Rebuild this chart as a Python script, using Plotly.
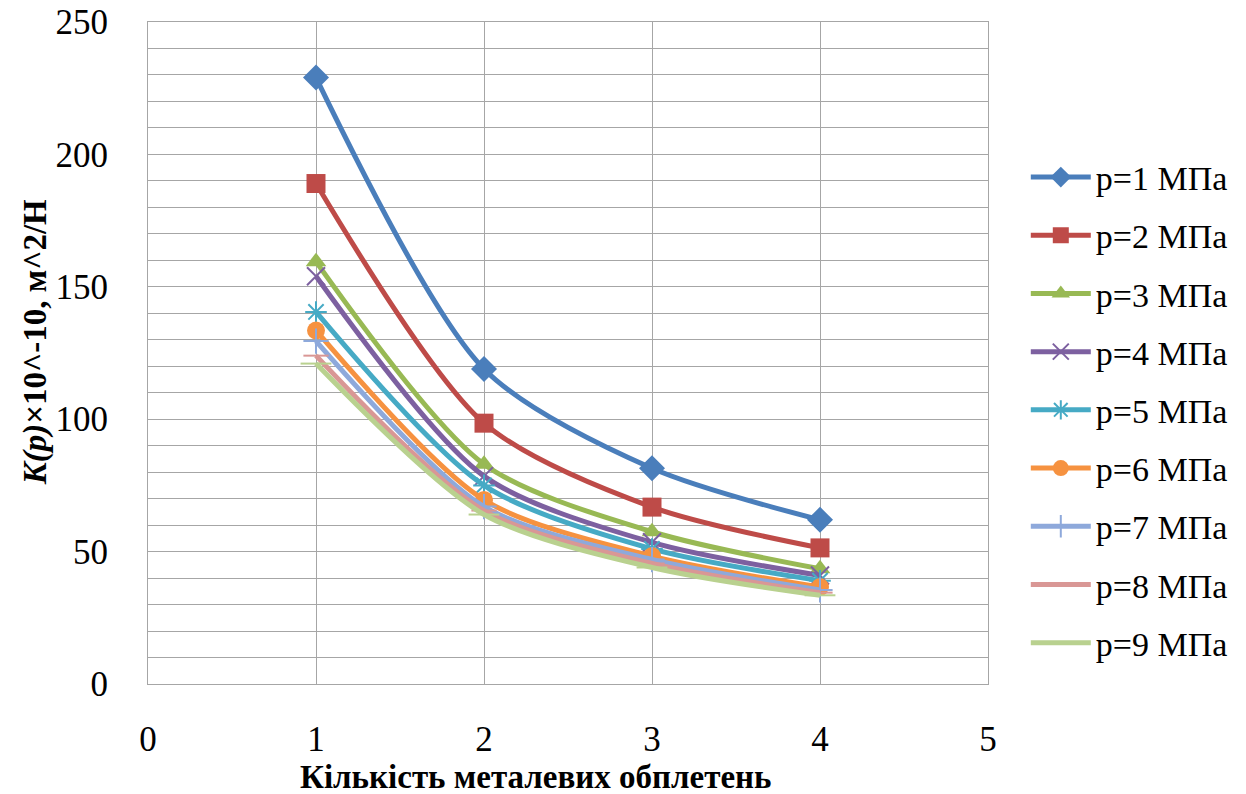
import plotly.graph_objects as go

x_vals = [1, 2, 3, 4]
series_names = ["p=1 МПа", "p=2 МПа", "p=3 МПа", "p=4 МПа", "p=5 МПа",
                "p=6 МПа", "p=7 МПа", "p=8 МПа", "p=9 МПа"]
p1 = [229, 119, 81.5, 62]
p2 = [189, 98.5, 66.8, 51.4]
p3 = [159.5, 83, 57.5, 43.5]
p4 = [154, 78.5, 53.5, 41]
p5 = [140.5, 75, 51, 39]
p6 = [133.5, 69.5, 48.3, 36.6]
p7 = [129.5, 67, 47, 35.5]
p8 = [124, 65.5, 45.5, 34.5]
p9 = [121, 64, 44, 33.5]
series_values = [p1, p2, p3, p4, p5, p6, p7, p8, p9]

x_ticks = [0, 1, 2, 3, 4, 5]
y_ticks = [0, 50, 100, 150, 200, 250]

colors = ["#4A7EBB", "#BE4B48", "#98B954", "#7D60A0", "#46AAC5",
          "#F69240", "#8EA9DB", "#D99795", "#B9D18F"]
symbols = ["diamond", "square", "triangle-up", "x-thin-open", "asterisk-open",
           "circle", "cross-thin-open", "line-ew-open", "line-ew-open"]
sizes = [20, 19, 18, 18, 18, 18, 18, 18, 22]

fig = go.Figure()
for i, (name, vals) in enumerate(zip(series_names, series_values)):
    open_sym = symbols[i].endswith("open")
    fig.add_trace(go.Scatter(
        x=x_vals, y=vals, name=name, mode="lines+markers",
        line=dict(color=colors[i], width=5, shape="spline", smoothing=0.8),
        marker=dict(symbol=symbols[i], size=sizes[i], color=colors[i],
                    line=dict(color=colors[i], width=2 if open_sym else 0)),
        legendgroup=f"g{i}",
    ))

serif = "Times New Roman, Liberation Serif, Tinos, DejaVu Serif, serif"
fig.update_layout(
    width=1246, height=794,
    margin=dict(l=148, r=258, t=22, b=110),
    paper_bgcolor="white", plot_bgcolor="white",
    font=dict(family=serif, size=35, color="black"),
    showlegend=True,
    legend=dict(x=1.045, y=0.414, xanchor="left", yanchor="middle",
                font=dict(family=serif, size=34, color="black"),
                tracegroupgap=11, itemwidth=60, bgcolor="rgba(0,0,0,0)"),
    xaxis=dict(range=[0, 5], tickvals=x_ticks, showgrid=True, gridcolor="#A6A6A6",
               gridwidth=1, zeroline=False, showline=True, linecolor="#A6A6A6",
               mirror=True, ticks="outside", ticklen=24, tickcolor="rgba(0,0,0,0)",
               tickfont=dict(family=serif, size=35), automargin=False),
    yaxis=dict(range=[0, 250], tickvals=y_ticks, showgrid=True, gridcolor="#A6A6A6",
               gridwidth=1, zeroline=False, showline=True, linecolor="#A6A6A6",
               mirror=True, ticks="outside", ticklen=32, tickcolor="rgba(0,0,0,0)",
               tickfont=dict(family=serif, size=35), automargin=False,
               minor=dict(dtick=10, showgrid=True, gridcolor="#A6A6A6", gridwidth=1)),
    annotations=[
        dict(text="<b>Кількість металевих обплетень</b>", xref="paper", yref="paper",
             x=0.462, y=-0.14, xanchor="center", yanchor="middle", showarrow=False,
             font=dict(family=serif, size=33, color="black")),
        dict(text="<b><i>K(p)</i>×10^-10, м^2/Н</b>", xref="paper", yref="paper",
             x=-0.134, y=0.517, xanchor="center", yanchor="middle", textangle=-90,
             showarrow=False, font=dict(family=serif, size=33, color="black")),
    ],
)

fig.write_html("out.html", config={"displayModeBar": False},
               post_script="document.body.style.margin='0';document.body.style.overflow='hidden';")
